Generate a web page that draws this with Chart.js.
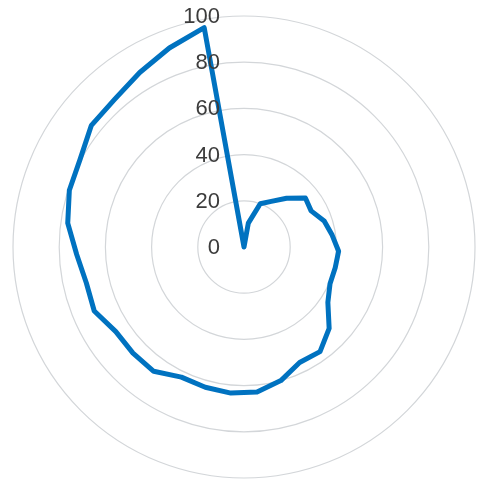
<!DOCTYPE html>
<html>
<head>
<meta charset="utf-8">
<script src="https://cdn.jsdelivr.net/npm/chart.js@4"></script>
<style>
  html, body { margin: 0; padding: 0; background: #fff; }
  #wrap { width: 483px; height: 486px; }
</style>
</head>
<body>
<div id="wrap"><canvas id="chart" width="483" height="486"></canvas></div>
<script>
// 35 spokes, first one straight up, going clockwise
const categories = [
  '1', '2', '3', '4', '5', '6', '7', '8', '9', '10',
  '11', '12', '13', '14', '15', '16', '17', '18', '19', '20',
  '21', '22', '23', '24', '25', '26', '27', '28', '29', '30',
  '31', '32', '33', '34', '35'
];
const spiralValues = [
  0, 10.5, 20, 23, 28, 34, 33, 36.5, 38.5, 41,
  40.5, 40.5, 43.5, 51, 56, 55.5, 60, 63, 63.5, 63,
  62.5, 66.5, 66.5, 66.5, 70.5, 70, 72.5, 77, 79.5, 80.5,
  84.5, 85, 88, 92, 96.5
];
const tickValues = [0, 20, 40, 60, 80, 100];

// tick labels sit left of the vertical centre line, right aligned
const tickLabelPlugin = {
  id: 'tickLabels',
  afterDatasetsDraw(chart) {
    const scale = chart.scales.r;
    const ctx = chart.ctx;
    ctx.save();
    ctx.font = '22px "Liberation Sans", Arial, sans-serif';
    ctx.fillStyle = '#3c3c3c';
    ctx.textAlign = 'right';
    ctx.textBaseline = 'middle';
    tickValues.forEach((v) => {
      const d = scale.getDistanceFromCenterForValue(v);
      ctx.fillText(String(v), scale.xCenter - 24, scale.yCenter - d + 1);
    });
    ctx.restore();
  }
};

const ctx = document.getElementById('chart');
new Chart(ctx, {
  type: 'radar',
  data: {
    labels: categories,
    datasets: [{
      data: spiralValues,
      borderColor: '#0072c0',
      borderWidth: 5,
      borderJoinStyle: 'round',
      pointRadius: 0,
      fill: false,
      tension: 0,
    }],
  },
  options: {
    responsive: false,
    animation: false,
    layout: { padding: { left: 13, right: 8, top: 16, bottom: 8 } },
    plugins: {
      legend: { display: false },
      tooltip: { enabled: false },
    },
    scales: {
      r: {
        min: tickValues[0],
        max: tickValues[tickValues.length - 1],
        ticks: { stepSize: 20, display: false },
        grid: { circular: true, color: '#d3d6d9', lineWidth: 1.2 },
        angleLines: { display: false },
        pointLabels: { display: false },
      },
    },
  },
  plugins: [tickLabelPlugin],
});
</script>
</body>
</html>
